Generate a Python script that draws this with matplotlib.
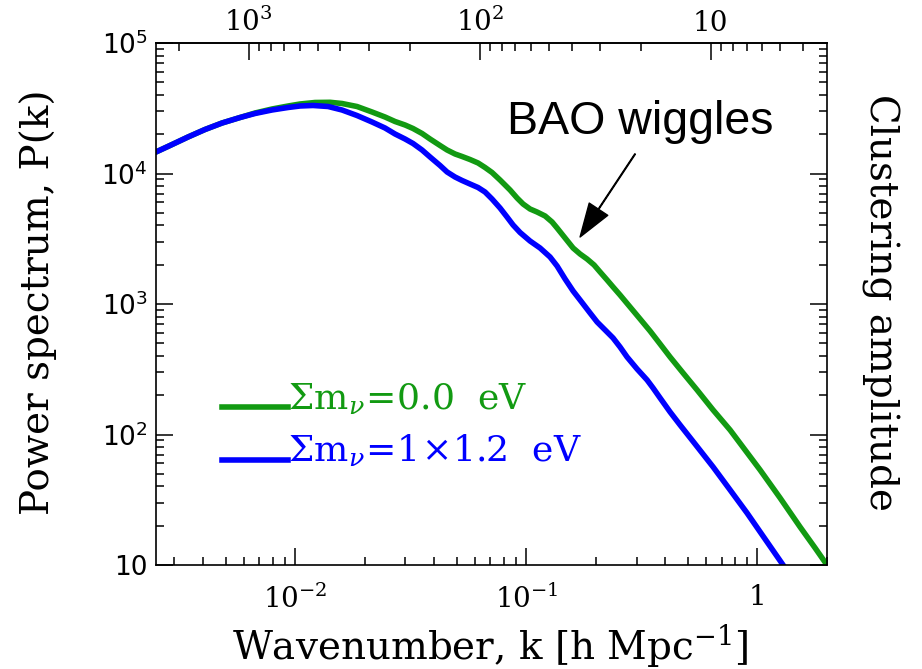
import numpy as np
import matplotlib
matplotlib.use('Agg')
import matplotlib.pyplot as plt
from matplotlib.ticker import FuncFormatter, LogLocator, FixedLocator
from matplotlib.legend_handler import HandlerLine2D
from matplotlib.lines import Line2D

plt.rcParams['mathtext.fontset'] = 'dejavuserif'

# P(k), massless case
k_green = [0.0025, 0.002874, 0.003439, 0.004074, 0.004828, 0.005776, 0.006706, 0.007941,
           0.009316, 0.01050, 0.01219, 0.01416, 0.01595, 0.01852, 0.02151, 0.02448,
           0.02705, 0.02989, 0.03236, 0.03540, 0.03834, 0.04235, 0.04543, 0.04918,
           0.05275, 0.05709, 0.06184, 0.06630, 0.07108, 0.07699, 0.08508, 0.09122,
           0.09685, 0.1038, 0.1113, 0.1206, 0.1293, 0.1359, 0.1472, 0.1594, 0.1709,
           0.1832, 0.1965, 0.2086, 0.2237, 0.2374, 0.2545, 0.2812, 0.3107, 0.3432,
           0.3793, 0.4189, 0.4769, 0.5483, 0.6431, 0.7617, 0.8845, 1.027, 1.254,
           1.530, 1.777, 2.0]
p_green = [14620, 16390, 19040, 21740, 24380, 26860, 29080, 31210,
           32900, 34090, 35010, 35130, 34390, 32610, 29600, 27100,
           25030, 23530, 22120, 20260, 18380, 16390, 15140, 14110,
           13500, 12800, 12040, 11120, 10180, 8917, 7475, 6492,
           5840, 5346, 5070, 4725, 4250, 3823, 3203, 2686, 2416,
           2212, 1990, 1759, 1527, 1350, 1172, 948.5, 767.6, 621.0,
           493.7, 392.6, 296.0, 219.3, 154.1, 108.3, 76.1, 53.5, 32.6,
           19.55, 13.50, 10.0]

# massive neutrino case
k_blue = [0.0025, 0.002874, 0.003439, 0.004074, 0.004828, 0.005776, 0.006706, 0.007941,
          0.009316, 0.01050, 0.01195, 0.01388, 0.01595, 0.01852, 0.02151, 0.02448,
          0.02705, 0.02989, 0.03236, 0.03540, 0.03834, 0.04235, 0.04543, 0.04918,
          0.05275, 0.05709, 0.06184, 0.06630, 0.07108, 0.07699, 0.08254, 0.08766,
          0.09400, 0.1038, 0.1147, 0.1267, 0.1359, 0.1472, 0.1594, 0.1709, 0.1888,
          0.2025, 0.2193, 0.2374, 0.2545, 0.2729, 0.3015, 0.3332, 0.3536, 0.3793,
          0.4189, 0.4628, 0.5374, 0.6431, 0.7617, 0.9022, 1.079, 1.291]
p_blue = [14620, 16390, 19040, 21740, 24380, 26860, 28830, 30660,
          32040, 32900, 33200, 32610, 30660, 27820, 24810, 22320,
          20080, 18380, 16980, 15140, 13380, 11520, 10270, 9400,
          8840, 8309, 7810, 7215, 6378, 5440, 4642, 4032,
          3530, 3039, 2686, 2292, 1955, 1555, 1258, 1073, 853.1,
          727.9, 632.1, 548.9, 468.2, 392.6, 317.7, 261.6, 227.2, 190.4,
          148.8, 118.3, 84.6, 56.4, 37.6, 25.0, 15.82, 10.0]

labels = [r'$\Sigma\mathregular{m}_{\nu}\!=\!\mathregular{0.0\ \ eV}$',
          r'$\Sigma\mathregular{m}_{\nu}\!=\!\mathregular{1\!\times\!1.2\ \ eV}$']
top_ticks = [1000, 100, 10]
green = '#129a12'
blue = '#0000ff'


def pow_fmt(v, pos):
    e = int(round(np.log10(v)))
    if e == 0:
        return '1'
    if e == 1:
        return '10'
    return r'$\mathregular{10^{%d}}$' % e


class BaselineHandler(HandlerLine2D):
    # put the legend key on the text baseline instead of its middle
    def create_artists(self, legend, orig_handle, xdescent, ydescent,
                       width, height, fontsize, trans):
        arts = super().create_artists(legend, orig_handle, xdescent, ydescent,
                                      width, height, fontsize, trans)
        for a in arts:
            if isinstance(a, Line2D):
                a.set_ydata(np.asarray(a.get_ydata()) - 0.3 * fontsize)
        return arts


fig = plt.figure(figsize=(9.22, 6.69), dpi=100)
ax = fig.add_axes([156 / 922, 104 / 669, 671 / 922, 522 / 669])

l1, = ax.plot(k_green, p_green, color=green, lw=4.0, label=labels[0])
l2, = ax.plot(k_blue, p_blue, color=blue, lw=4.0, label=labels[1])

ax.set_xscale('log')
ax.set_yscale('log')
ax.set_xlim(0.0025, 2.0)
ax.set_ylim(10, 1e5)

for s in ax.spines.values():
    s.set_linewidth(1.2)

ax.xaxis.set_major_formatter(FuncFormatter(pow_fmt))
ax.yaxis.set_major_formatter(FuncFormatter(pow_fmt))
ax.yaxis.set_major_locator(LogLocator(base=10, numticks=10))
ax.tick_params(which='both', direction='in', top=False, right=True, width=1.1)
ax.tick_params(which='major', length=12)
ax.tick_params(which='minor', length=6)
ax.tick_params(axis='x', which='major', pad=14, labelsize=20)
for t in ax.get_xticklabels():
    t.set_family('DejaVu Serif')
ax.tick_params(axis='y', which='major', pad=6, labelsize=19)

# top axis: wavelength 2*pi/k
top = ax.secondary_xaxis('top', functions=(lambda k: 2 * np.pi / k, lambda l: 2 * np.pi / l))
top.xaxis.set_major_locator(FixedLocator(top_ticks))
top.xaxis.set_major_formatter(FuncFormatter(pow_fmt))
top.tick_params(which='both', direction='in', width=1.1)
top.tick_params(which='major', length=12, pad=4, labelsize=20)
top.tick_params(which='minor', length=6)
top.spines['top'].set_linewidth(1.2)
for t in top.get_xticklabels():
    t.set_family('DejaVu Serif')

fig.text(490 / 922, 1 - 646 / 669, r'Wavenumber, k [h Mpc$^{-1}$]', family='DejaVu Serif',
         fontsize=28, ha='center', va='center')
fig.text(38 / 922, 1 - 302 / 669, 'Power spectrum, P(k)', family='DejaVu Serif',
         fontsize=28, ha='center', va='center', rotation=90)
fig.text(880 / 922, 1 - 302 / 669, 'Clustering amplitude', family='DejaVu Serif',
         fontsize=28, ha='center', va='center', rotation=-90)

leg = ax.legend(handles=[l1, l2], loc='upper left', bbox_to_anchor=(0.098, 0.352),
                frameon=False, fontsize=26, handlelength=1.83, handletextpad=0.0,
                labelspacing=0.45, labelcolor='linecolor', borderaxespad=0, borderpad=0,
                handler_map={Line2D: BaselineHandler()})
for t in leg.get_texts():
    t.set_family('DejaVu Serif')

ax.text(0.3107, 24810, 'BAO wiggles', family='Liberation Sans', fontsize=33.5,
        ha='center', va='center')
ax.annotate('', xy=(0.1709, 3262), xytext=(0.2956, 14105),
            arrowprops=dict(facecolor='black', edgecolor='black', width=0.5,
                            headwidth=16, headlength=24, shrink=0))

fig.savefig('out.png', dpi=100)
